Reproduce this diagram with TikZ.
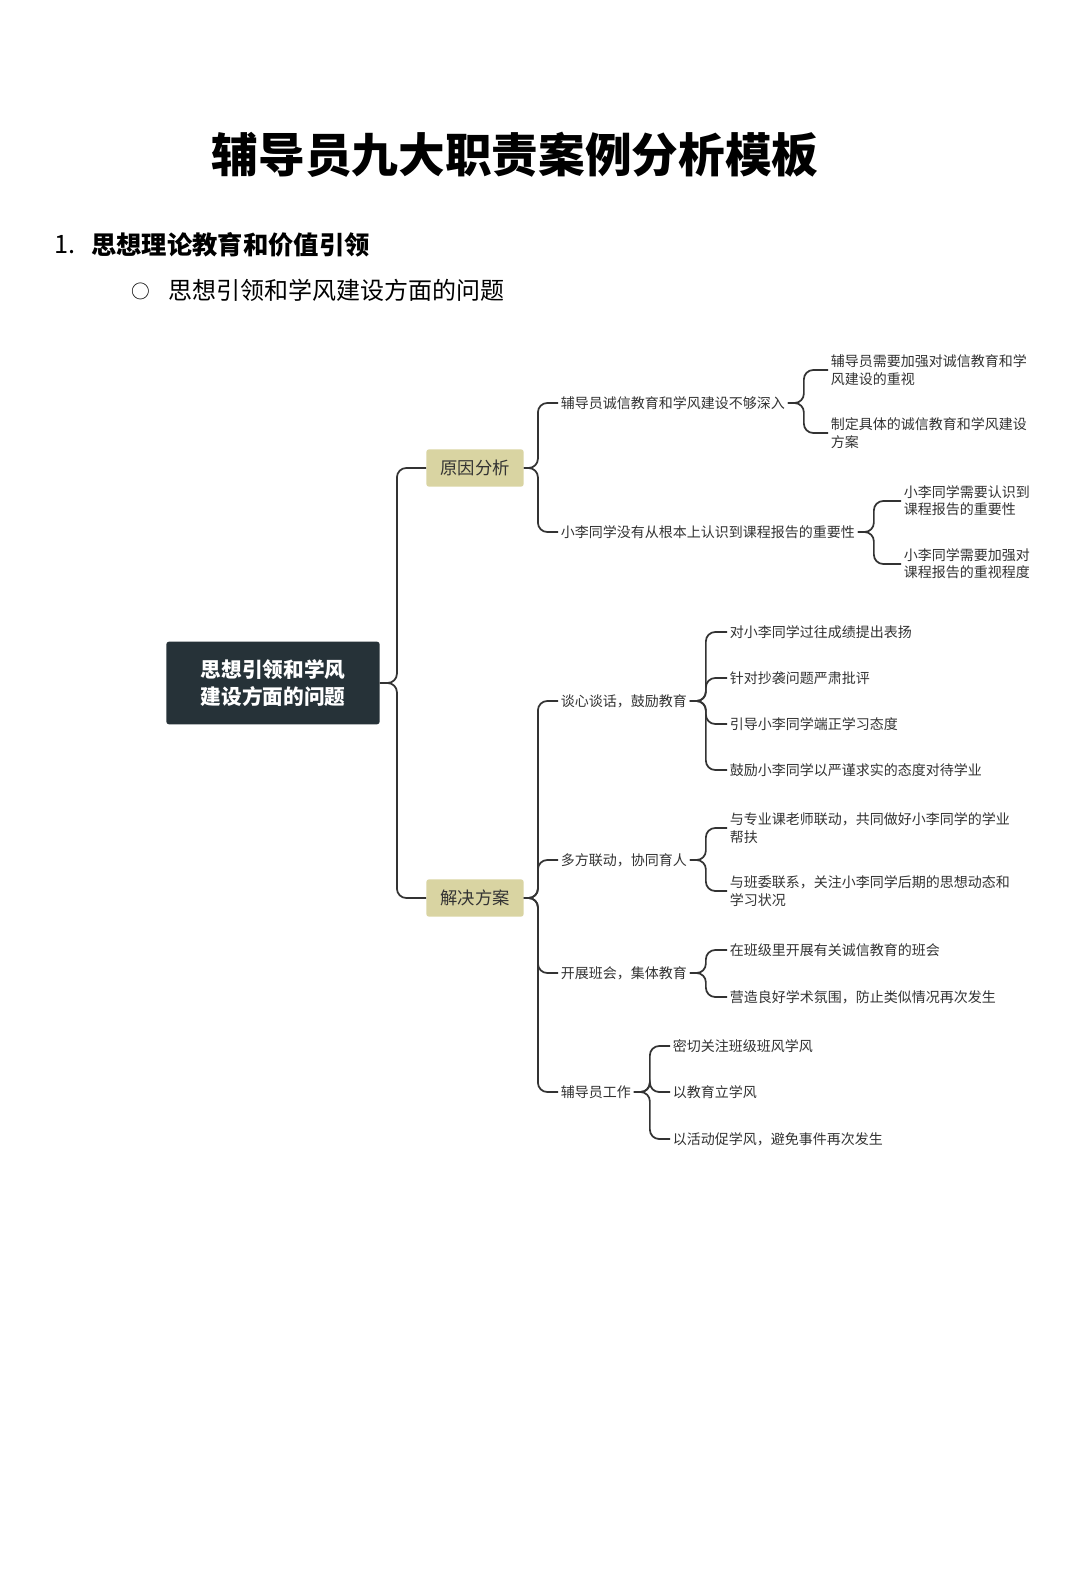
\documentclass[tikz,border=0pt]{standalone}
\usepackage{fontspec}
\setmainfont{Noto Sans CJK SC}
\definecolor{rootc}{HTML}{263238}
\definecolor{tanc}{HTML}{D9D4A2}
\definecolor{linec}{HTML}{333333}
\definecolor{txtc}{HTML}{333333}
\tikzset{
  leaf/.style={anchor=west,inner sep=2pt,font=\fontsize{10.5}{13}\selectfont,text=txtc,align=left},
  mid/.style={fill=tanc,rounded corners=2pt,minimum width=73pt,minimum height=28pt,font=\fontsize{13}{15}\selectfont,text=txtc},
  conn/.style={draw=linec,line width=1.3pt,rounded corners=7pt}
}
\begin{document}
\begin{tikzpicture}[x=0.75pt,y=-0.75pt]
\useasboundingbox[fill=white] (0,0) rectangle (1080,1587);
\node[font=\fontsize{35}{40}\selectfont\bfseries] (title) at (515,155) {辅导员九大职责案例分析模板};
\node[anchor=west,font=\fontsize{19}{22}\selectfont] (num) at (50,245) {1.};
\node[anchor=west,font=\fontsize{19}{22}\selectfont\bfseries,inner sep=0] (h1) at (91,245) {思想理论教育和价值引领};
\node[anchor=west,font=\fontsize{14}{16}\selectfont] (bul) at (127,291) {○};
\node[anchor=west,font=\fontsize{18}{21}\selectfont,inner sep=0] (h2) at (168,290) {思想引领和学风建设方面的问题};

\node[fill=rootc,rounded corners=2pt,minimum width=160pt,minimum height=62pt,text=white,font=\fontsize{15.5}{20}\selectfont\bfseries,align=center] (root) at (273,683) {思想引领和学风\\建设方面的问题};
\node[mid] (yy) at (475,468) {原因分析};
\node[mid] (jj) at (475,898) {解决方案};
\draw[conn] (root.east) -- ++(17,0) |- (yy.west);
\draw[conn] (root.east) -- ++(17,0) |- (jj.west);

\node[leaf] (a1) at (558,403) {辅导员诚信教育和学风建设不够深入};
\node[leaf] (a2) at (558,532) {小李同学没有从根本上认识到课程报告的重要性};
\foreach \c in {a1,a2}{\draw[conn] (yy.east) -- ++(14,0) |- (\c.west);}
\node[leaf] (a11) at (828,370) {辅导员需要加强对诚信教育和学\\风建设的重视};
\node[leaf] (a12) at (828,433) {制定具体的诚信教育和学风建设\\方案};
\foreach \c in {a11,a12}{\draw[conn] (a1.east) -- ++(16,0) |- (\c.west);}
\node[leaf] (a21) at (901,501) {小李同学需要认识到\\课程报告的重要性};
\node[leaf] (a22) at (901,564) {小李同学需要加强对\\课程报告的重视程度};
\foreach \c in {a21,a22}{\draw[conn] (a2.east) -- ++(16,0) |- (\c.west);}

\node[leaf] (b1) at (558,701) {谈心谈话，鼓励教育};
\node[leaf] (b2) at (558,860) {多方联动，协同育人};
\node[leaf] (b3) at (558,973) {开展班会，集体教育};
\node[leaf] (b4) at (558,1092) {辅导员工作};
\foreach \c in {b1,b2,b3,b4}{\draw[conn] (jj.east) -- ++(14,0) |- (\c.west);}

\node[leaf] (b11) at (727,632) {对小李同学过往成绩提出表扬};
\node[leaf] (b12) at (727,678) {针对抄袭问题严肃批评};
\node[leaf] (b13) at (727,724) {引导小李同学端正学习态度};
\node[leaf] (b14) at (727,770) {鼓励小李同学以严谨求实的态度对待学业};
\foreach \c in {b11,b12,b13,b14}{\draw[conn] (b1.east) -- ++(16,0) |- (\c.west);}
\node[leaf] (b21) at (727,828) {与专业课老师联动，共同做好小李同学的学业\\帮扶};
\node[leaf] (b22) at (727,891) {与班委联系，关注小李同学后期的思想动态和\\学习状况};
\foreach \c in {b21,b22}{\draw[conn] (b2.east) -- ++(16,0) |- (\c.west);}
\node[leaf] (b31) at (727,950) {在班级里开展有关诚信教育的班会};
\node[leaf] (b32) at (727,997) {营造良好学术氛围，防止类似情况再次发生};
\foreach \c in {b31,b32}{\draw[conn] (b3.east) -- ++(16,0) |- (\c.west);}
\node[leaf] (b41) at (670,1046) {密切关注班级班风学风};
\node[leaf] (b42) at (670,1092) {以教育立学风};
\node[leaf] (b43) at (670,1139) {以活动促学风，避免事件再次发生};
\foreach \c in {b41,b42,b43}{\draw[conn] (b4.east) -- ++(16,0) |- (\c.west);}
\end{tikzpicture}
\end{document}
